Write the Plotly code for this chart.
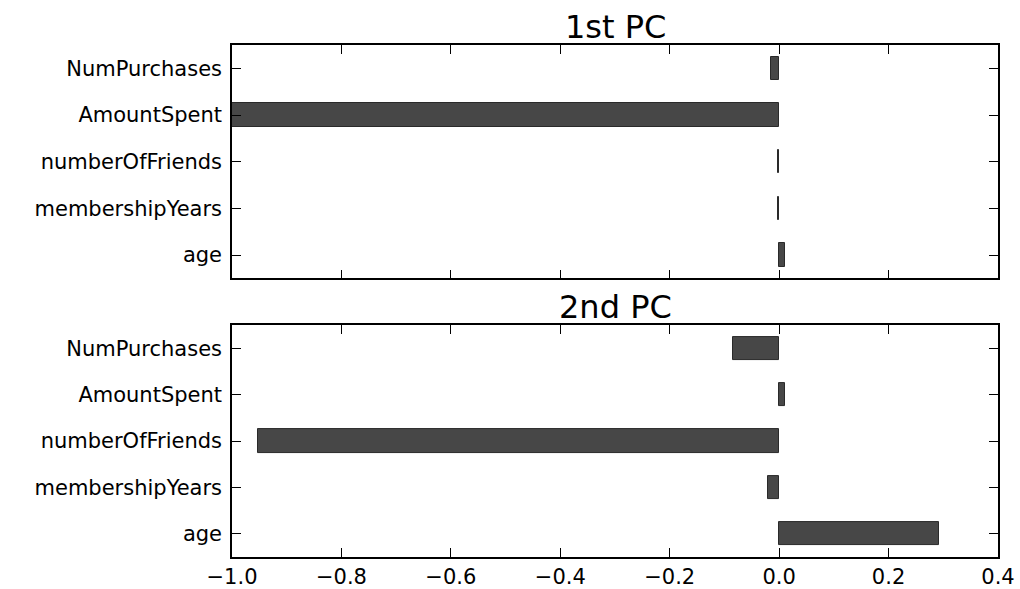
import plotly.graph_objects as go
from plotly.subplots import make_subplots

features = ["age", "membershipYears", "numberOfFriends", "AmountSpent", "NumPurchases"]
pc1 = [0.010, -0.003, -0.003, -0.9998, -0.014]
pc2 = [0.292, -0.021, -0.952, 0.010, -0.084]
titles = ["1st PC", "2nd PC"]
xtick_vals = [-1.0, -0.8, -0.6, -0.4, -0.2, 0.0, 0.2, 0.4]
xtick_text = ["\u22121.0", "\u22120.8", "\u22120.6", "\u22120.4", "\u22120.2", "0.0", "0.2", "0.4"]

FONT = "DejaVu Sans"
fig = make_subplots(rows=2, cols=1, shared_xaxes=True)

for i, vals in enumerate([pc1, pc2]):
    fig.add_trace(go.Bar(
        x=vals, y=list(range(len(features))), orientation="h", width=0.5,
        marker=dict(color="#474747", line=dict(color="#2a2a2a", width=1)),
        showlegend=False), row=i + 1, col=1)

axis_common = dict(showline=True, linecolor="black", linewidth=1.5, mirror="ticks",
                   ticks="inside", ticklen=9, tickwidth=1, tickcolor="black",
                   showgrid=False, zeroline=False, automargin=False,
                   tickfont=dict(family=FONT, size=21, color="black"))

for r in (1, 2):
    fig.update_xaxes(range=[-1.0, 0.4], tickvals=xtick_vals, ticktext=xtick_text,
                     showticklabels=(r == 2), ticklabelstandoff=0, **axis_common, row=r, col=1)
    fig.update_yaxes(range=[-0.5, 4.5], tickvals=list(range(len(features))), ticktext=features,
                     ticklabelstandoff=4, **axis_common, row=r, col=1)

fig.update_layout(
    width=1020, height=589,
    margin=dict(l=232, r=22, t=45, b=32),
    plot_bgcolor="white", paper_bgcolor="white",
    font=dict(family=FONT, color="black"),
    yaxis=dict(domain=[0.544, 1.0]),
    yaxis2=dict(domain=[0.0, 0.453]),
    bargap=0,
)

for dom_top, t in zip([1.0, 0.453], titles):
    fig.add_annotation(text=t, x=0.5, xref="paper", y=dom_top, yref="paper",
                       xanchor="center", yanchor="bottom", yshift=-3, showarrow=False,
                       font=dict(family=FONT, size=32, color="black"))

fig.write_html("out.html")
